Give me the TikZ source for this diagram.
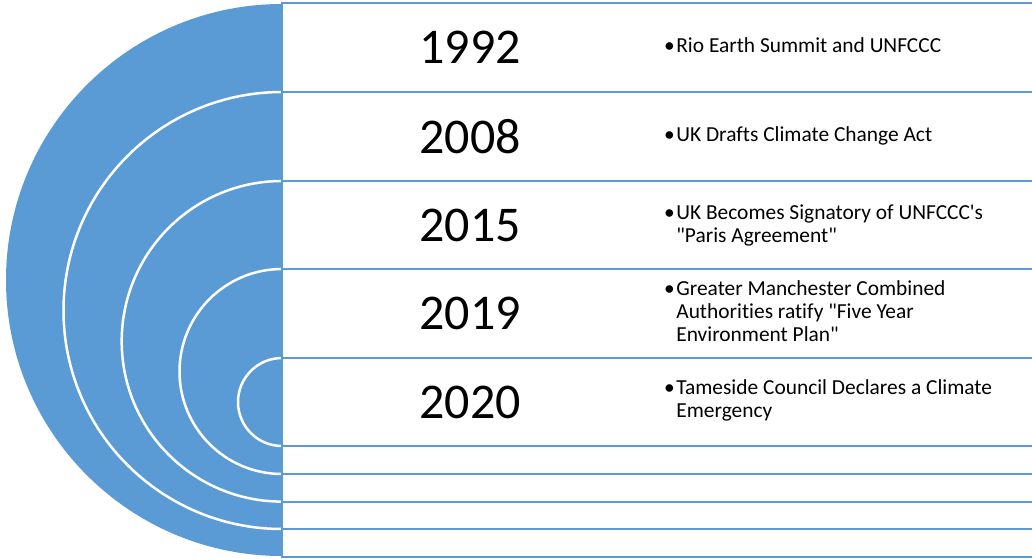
\documentclass[tikz,border=0pt]{standalone}
\usepackage{fontspec}
\setmainfont{Carlito}[Ligatures={TeXOff,CommonOff}]
\definecolor{sblue}{HTML}{5B9BD5}
\tikzset{
  rowbox/.style={draw=sblue, fill=white, line width=2pt, rectangle, outer sep=0pt, inner sep=0pt, minimum width=800pt, anchor=north west},
  ring/.style={draw=white, line width=2.5pt},
  year/.style={font=\fontsize{50}{60}\selectfont, inner sep=0pt},
  desc/.style={font=\fontsize{21.4}{23}\selectfont, inner sep=0pt, anchor=west, align=left}
}
\newcommand{\bul}[1]{\begin{tabular}{@{}l@{\hspace{1.5pt}}l@{}}\textbullet & #1\end{tabular}}
\begin{document}
\begin{tikzpicture}[x=1pt,y=-1pt]
\useasboundingbox (0,0) rectangle (1032,558);
\clip (0,0) rectangle (1032,558);
% big half disc
\fill[sblue] (282,4) arc[start angle=270,end angle=90,radius=276] -- cycle;
% white concentric arcs
\draw[ring] (282,92) arc[start angle=270,end angle=90,radius=218.5];
\draw[ring] (282,181) arc[start angle=270,end angle=90,radius=160.3];
\draw[ring] (282,269) arc[start angle=270,end angle=90,radius=102.5];
\draw[ring] (282,358) arc[start angle=270,end angle=90,radius=44];
% rows
\node[rowbox, minimum height=89pt] (r1) at (282,3) {};
\node[rowbox, minimum height=89pt] (r2) at (282,92) {};
\node[rowbox, minimum height=88pt] (r3) at (282,181) {};
\node[rowbox, minimum height=89pt] (r4) at (282,269) {};
\node[rowbox, minimum height=88pt] (r5) at (282,358) {};
\node[rowbox, minimum height=28pt] (r6) at (282,446) {};
\node[rowbox, minimum height=28pt] (r7) at (282,474) {};
\node[rowbox, minimum height=27pt] (r8) at (282,502) {};
\node[rowbox, minimum height=27.5pt] (r9) at (282,529) {};
% years
\node[year] (y1) at (470,47.5) {1992};
\node[year] (y2) at (470,136.5) {2008};
\node[year] (y3) at (470,225) {2015};
\node[year] (y4) at (470,313.5) {2019};
\node[year] (y5) at (470,402) {2020};
% descriptions
\node[desc] (d1) at (664,47.5) {\bul{Rio Earth Summit and UNFCCC}};
\node[desc] (d2) at (664,136.5) {\bul{UK Drafts Climate Change Act}};
\node[desc] (d3) at (664,226) {\bul{UK Becomes Signatory of UNFCCC's\\ & "Paris Agreement"}};
\node[desc] (d4) at (664,313.5) {\bul{Greater Manchester Combined\\ & Authorities ratify "Five Year\\ & Environment Plan"}};
\node[desc] (d5) at (664,401.5) {\bul{Tameside Council Declares a Climate\\ & Emergency}};
\end{tikzpicture}
\end{document}
